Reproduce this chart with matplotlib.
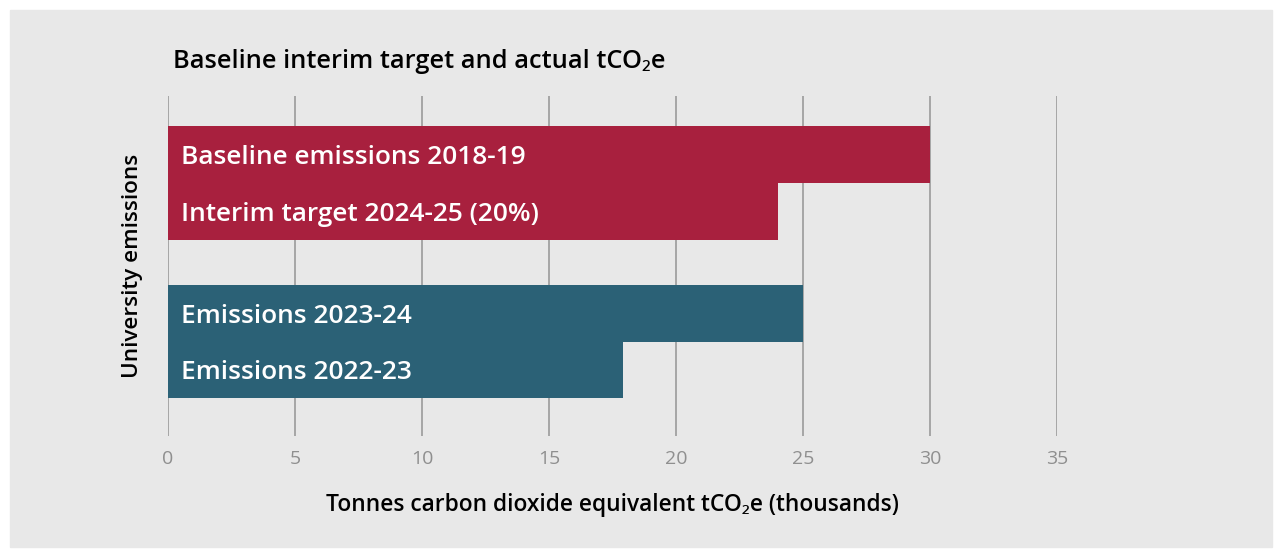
import matplotlib.pyplot as plt
from matplotlib.patches import Rectangle

labels = ["Baseline emissions 2018-19", "Interim target 2024-25 (20%)",
          "Emissions 2023-24", "Emissions 2022-23"]
values = [30, 24, 25, 17.9]
positions = [0, 1, 2.79, 3.77]
colors = ["#A8203E", "#A8203E", "#2B6176", "#2B6176"]
xticks = [0, 5, 10, 15, 20, 25, 30, 35]

plt.rcParams['font.family'] = ['Open Sans', 'Noto Sans', 'DejaVu Sans']

fig = plt.figure(figsize=(12.82, 5.57), dpi=100, facecolor="white")
W, H = 1282, 557
bg = Rectangle((10 / W, 10 / H), 1262 / W, 537 / H,
               transform=fig.transFigure, color="#E8E8E8", zorder=-10)
fig.patches.append(bg)

ax = fig.add_axes([168 / W, 1 - 436 / H, (1057 - 168) / W, (436 - 96) / H])
ax.set_facecolor("none")

ax.barh(positions, values, height=1.0, color=colors, zorder=3)
for p, lab in zip(positions, labels):
    ax.text(0.5, p + 0.05, lab, color="white", fontsize=18.9, fontweight="semibold",
            va="center", ha="left", zorder=4)

ax.set_xlim(0, 35)
ax.set_ylim(4.94, -1.026)
ax.set_xticks(xticks)
ax.set_yticks([])
ax.grid(axis="x", color="#9A9A9A", linewidth=1.2, zorder=1)
for s in ax.spines.values():
    s.set_visible(False)
ax.tick_params(axis="x", length=0, pad=10, labelsize=14, labelcolor="#8F8F8F")

ax.set_xlabel("Tonnes carbon dioxide equivalent tCO\u2082e (thousands)",
              fontsize=16.4, fontweight="semibold", labelpad=18)
ax.set_ylabel("University emissions", fontsize=16.2, fontweight="semibold", labelpad=18)
fig.text(173 / W, 1 - 62 / H, "Baseline interim target and actual tCO\u2082e",
         fontsize=18.3, fontweight="semibold", va="center", ha="left")

fig.savefig("out.png", dpi=100, facecolor="white")
